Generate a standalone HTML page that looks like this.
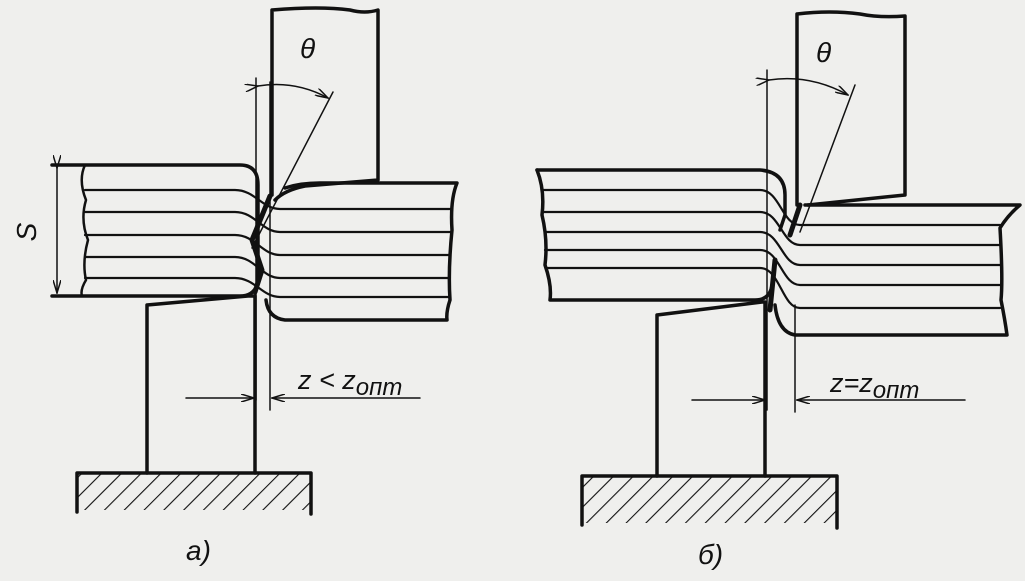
<!DOCTYPE html>
<html><head><meta charset="utf-8"><style>
html,body{margin:0;padding:0;background:#efefed;}
svg{display:block}
text{font-family:"Liberation Sans",sans-serif;font-style:italic;fill:#111}
</style></head><body>
<svg width="1025" height="581" viewBox="0 0 1025 581" xmlns="http://www.w3.org/2000/svg">
<defs>
<pattern id="h" width="14" height="14" patternUnits="userSpaceOnUse" patternTransform="rotate(45)">
<line x1="0" y1="0" x2="0" y2="14" stroke="#111" stroke-width="2.2"/>
</pattern>
<marker id="a" markerWidth="14" markerHeight="8" refX="13" refY="4" orient="auto" markerUnits="userSpaceOnUse">
<path d="M0,0 L13,4 L0,8" fill="none" stroke="#111" stroke-width="1.5"/>
</marker>
</defs>
<rect width="1025" height="581" fill="#efefed"/>
<g fill="none" stroke="#111" stroke-linecap="round" stroke-linejoin="round">
<!-- ===== LEFT (a) ===== -->
<path d="M272 195 V10 Q320 6 350 10 Q365 14 378 10 V180 L305 186 Q285 190 275 200" stroke-width="3.5"/>
<path d="M52 165 H240 Q258 165 258 185 V280 Q256 296 240 296 H52" stroke-width="3.5"/>
<path d="M85 165 Q78 180 86 200 Q80 220 88 240 Q82 262 86 280 Q80 290 82 296" stroke-width="2.5"/>
<path d="M285 188 Q300 183 320 183 H457 Q450 200 452 230 Q448 270 450 300 Q446 312 447 320 H285 Q268 318 266 300" stroke-width="3.5"/>
<g stroke-width="2.2">
<path d="M85 190 H235 C255 190,262 209,280 209 H450"/>
<path d="M85 212 H235 C255 212,262 232,280 232 H450"/>
<path d="M85 235 H235 C255 235,262 255,280 255 H450"/>
<path d="M85 257 H235 C255 257,262 278,280 278 H450"/>
<path d="M85 278 H235 C255 278,262 297,280 297 H450"/>
</g>
<path d="M270 196 L252 240 L262 270 L255 292" stroke-width="5"/>
<line x1="57" y1="168" x2="57" y2="293" stroke-width="1.5" marker-start="url(#a)" marker-end="url(#a)"/>
<path d="M147 473 V305 L248 296 L255 296 V473" stroke-width="3.5"/>
<rect x="77" y="474" width="234" height="36" fill="url(#h)" stroke="none"/>
<path d="M77 512 V473 H311 V514" stroke-width="3.5"/>
<line x1="256" y1="78" x2="256" y2="400" stroke-width="1.5"/>
<line x1="270" y1="82" x2="270" y2="410" stroke-width="1.5"/>
<line x1="333" y1="92" x2="252" y2="248" stroke-width="1.5"/>
<path d="M258 86 Q295 80 328 98" stroke-width="1.5" marker-start="url(#a)" marker-end="url(#a)"/>
<line x1="186" y1="398" x2="254" y2="398" stroke-width="1.5" marker-end="url(#a)"/>
<line x1="420" y1="398" x2="272" y2="398" stroke-width="1.5" marker-end="url(#a)"/>
<!-- ===== RIGHT (б) ===== -->
<path d="M797 205 V14 Q830 10 860 14 Q880 18 905 16 V195 L808 205" stroke-width="3.5"/>
<path d="M537 170 H760 Q785 172 785 195 V215 L780 230" stroke-width="3.5"/>
<path d="M537 170 Q545 190 542 215 Q548 240 545 265 Q552 285 550 300 H755 Q770 300 772 285" stroke-width="3.5"/>
<path d="M805 205 H1020 Q1008 215 1000 228 Q1003 280 1001 300 Q1005 320 1007 335 H795 Q778 332 775 305" stroke-width="3.5"/>
<g stroke-width="2.2">
<path d="M542 190 H760 C780 190,782 225,800 225 H1000"/>
<path d="M543 212 H760 C780 212,782 245,800 245 H1000"/>
<path d="M545 232 H760 C780 232,782 265,800 265 H1000"/>
<path d="M545 250 H760 C780 250,782 285,800 285 H1000"/>
<path d="M547 268 H760 C780 268,782 308,800 308 H1000"/>
</g>
<path d="M800 205 L790 235 M775 260 L770 310" stroke-width="5"/>
<path d="M657 476 V315 L762 302 L765 302 V476" stroke-width="3.5"/>
<rect x="582" y="477" width="254" height="46" fill="url(#h)" stroke="none"/>
<path d="M582 525 V476 H837 V528" stroke-width="3.5"/>
<line x1="767" y1="70" x2="767" y2="410" stroke-width="1.5"/>
<line x1="795" y1="305" x2="795" y2="412" stroke-width="1.5"/>
<line x1="855" y1="85" x2="800" y2="232" stroke-width="1.5"/>
<path d="M769 80 Q810 74 848 95" stroke-width="1.5" marker-start="url(#a)" marker-end="url(#a)"/>
<line x1="692" y1="400" x2="765" y2="400" stroke-width="1.5" marker-end="url(#a)"/>
<line x1="965" y1="400" x2="797" y2="400" stroke-width="1.5" marker-end="url(#a)"/>
</g>
<text x="300" y="58" font-size="28">θ</text>
<text x="816" y="62" font-size="28">θ</text>
<text x="0" y="0" font-size="28" font-style="normal" transform="translate(36,232) rotate(-90)" text-anchor="middle">S</text>
<text x="298" y="389" font-size="27">z &lt; z<tspan font-size="24" dy="6">опт</tspan></text>
<text x="830" y="392" font-size="27">z=z<tspan font-size="24" dy="6">опт</tspan></text>
<text x="186" y="560" font-size="28">а)</text>
<text x="698" y="564" font-size="28">б)</text>
</svg>
</body></html>
